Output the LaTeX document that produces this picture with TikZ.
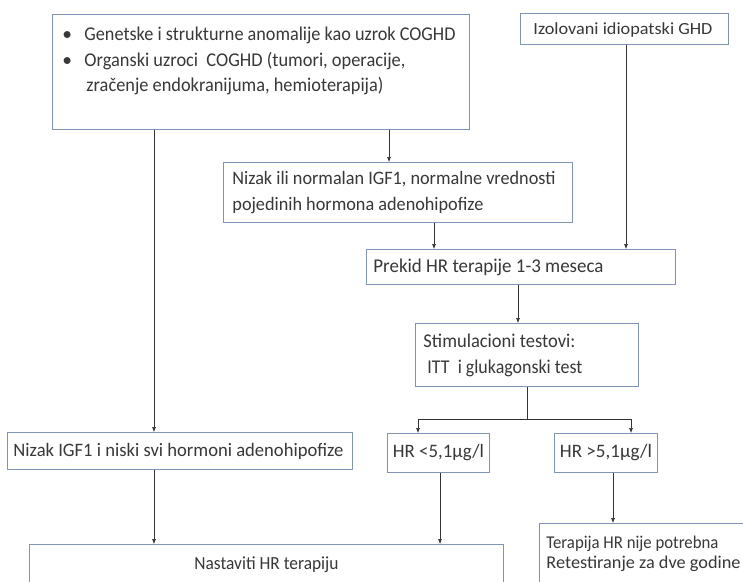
\documentclass[tikz,border=0pt]{standalone}
\usepackage{fontspec}
\usepackage{graphicx}
\setmainfont{Carlito}
\usetikzlibrary{arrows.meta}
\definecolor{bc}{HTML}{8294B6}
\definecolor{ac}{HTML}{333333}
\definecolor{tc}{HTML}{383838}
\newcommand\fw[2]{\resizebox{#1pt}{\height}{#2}}
\begin{document}
\begin{tikzpicture}[x=1pt,y=-1pt,
  box/.style={draw=bc, line width=0.9pt, inner sep=0pt, anchor=north west, fill=white, text=tc},
  fs/.style={font=\fontsize{#1}{26}\selectfont},
  arr/.style={draw=ac, line width=0.6pt, -{Latex[length=5pt,width=4pt]}},
  ln/.style={draw=ac, line width=0.6pt}]
\useasboundingbox (0,0) rectangle (743,581);
\clip (0,0) rectangle (743,581);
% boxes
\node[box, font=\fontsize{19.5}{25.5}\selectfont] (A) at (52,14) {\parbox[c][115pt][t]{417pt}{\vspace{13pt}%
  \hspace*{10pt}\makebox[22pt][l]{•}\fw{371}{Genetske i strukturne anomalije kao uzrok COGHD}\\
  \hspace*{10pt}\makebox[22pt][l]{•}\fw{321}{Organski uzroci\ \ COGHD (tumori, operacije,}\\
  \hspace*{34pt}\fw{297}{zračenje endokranijuma, hemioterapija)}}};
\node[box, fs=17] (B) at (520,13) {\parbox[c][31pt][c]{208pt}{\vspace{2pt}\hspace*{13pt}\fw{179}{Izolovani idiopatski GHD}}};
\node[box, fs=19] (C) at (223,162) {\parbox[c][60pt][c]{349pt}{%
  \hspace*{9pt}\fw{323}{Nizak ili normalan IGF1, normalne vrednosti}\\
  \hspace*{9pt}\fw{251}{pojedinih hormona adenohipofize}}};
\node[box, fs=19.5] (D) at (366,249) {\parbox[c][35pt][c]{309pt}{\hspace*{7pt}\fw{230}{Prekid HR terapije 1-3 meseca}}};
\node[box, fs=19.5] (E) at (415,323) {\parbox[c][63pt][c]{223pt}{%
  \hspace*{8pt}\fw{152}{Stimulacioni testovi:}\\
  \hspace*{12pt}\fw{155}{ITT\ \ i glukagonski test}}};
\node[box, fs=19] (F) at (387,433) {\parbox[c][39pt][c]{102pt}{\centering\fw{91}{HR {<}5,1µg/l}}};
\node[box, fs=19] (I) at (554,433) {\parbox[c][39pt][c]{103pt}{\centering\fw{92}{HR {>}5,1µg/l}}};
\node[box, fs=19] (G) at (7,432) {\parbox[c][37pt][c]{345pt}{\hspace*{6pt}\fw{330}{Nizak IGF1 i niski svi hormoni adenohipofize}}};
\node[box, fs=18.5] (H) at (29,544) {\parbox[c][60pt][t]{474pt}{\vspace{12pt}\centering\fw{144}{Nastaviti HR terapiju}}};
\node[box, font=\fontsize{18}{20}\selectfont] (J) at (539,523) {\parbox[c][80pt][t]{230pt}{\vspace{13pt}%
  \hspace*{7pt}\fw{172}{Terapija HR nije potrebna}\\
  \hspace*{7pt}\fw{194}{Retestiranje za dve godine}}};
% connector x positions
\coordinate (x1) at (389,0);
\coordinate (x2) at (626,0);
\coordinate (x3) at (434,0);
\coordinate (x4) at (518,0);
\coordinate (x5) at (527,0);
\coordinate (x6) at (418,0);
\coordinate (x7) at (631,0);
\coordinate (x8) at (440,0);
\coordinate (x9) at (613,0);
\coordinate (x10) at (154,0);
\coordinate (br) at (527,419);
% connectors
\draw[arr] (A.south -| x1) -- (C.north -| x1);
\draw[arr] (B.south -| x2) -- (D.north -| x2);
\draw[arr] (C.south -| x3) -- (D.north -| x3);
\draw[arr] (D.south -| x4) -- (E.north -| x4);
\draw[ln] (E.south -| x5) -- (br);
\draw[arr] (br) -| (F.north -| x6);
\draw[arr] (br) -| (I.north -| x7);
\draw[arr] (F.south -| x8) -- (H.north -| x8);
\draw[arr] (I.south -| x9) -- (J.north -| x9);
\draw[arr] (A.south -| x10) -- (G.north -| x10);
\draw[arr] (G.south -| x10) -- (H.north -| x10);
\end{tikzpicture}
\end{document}
